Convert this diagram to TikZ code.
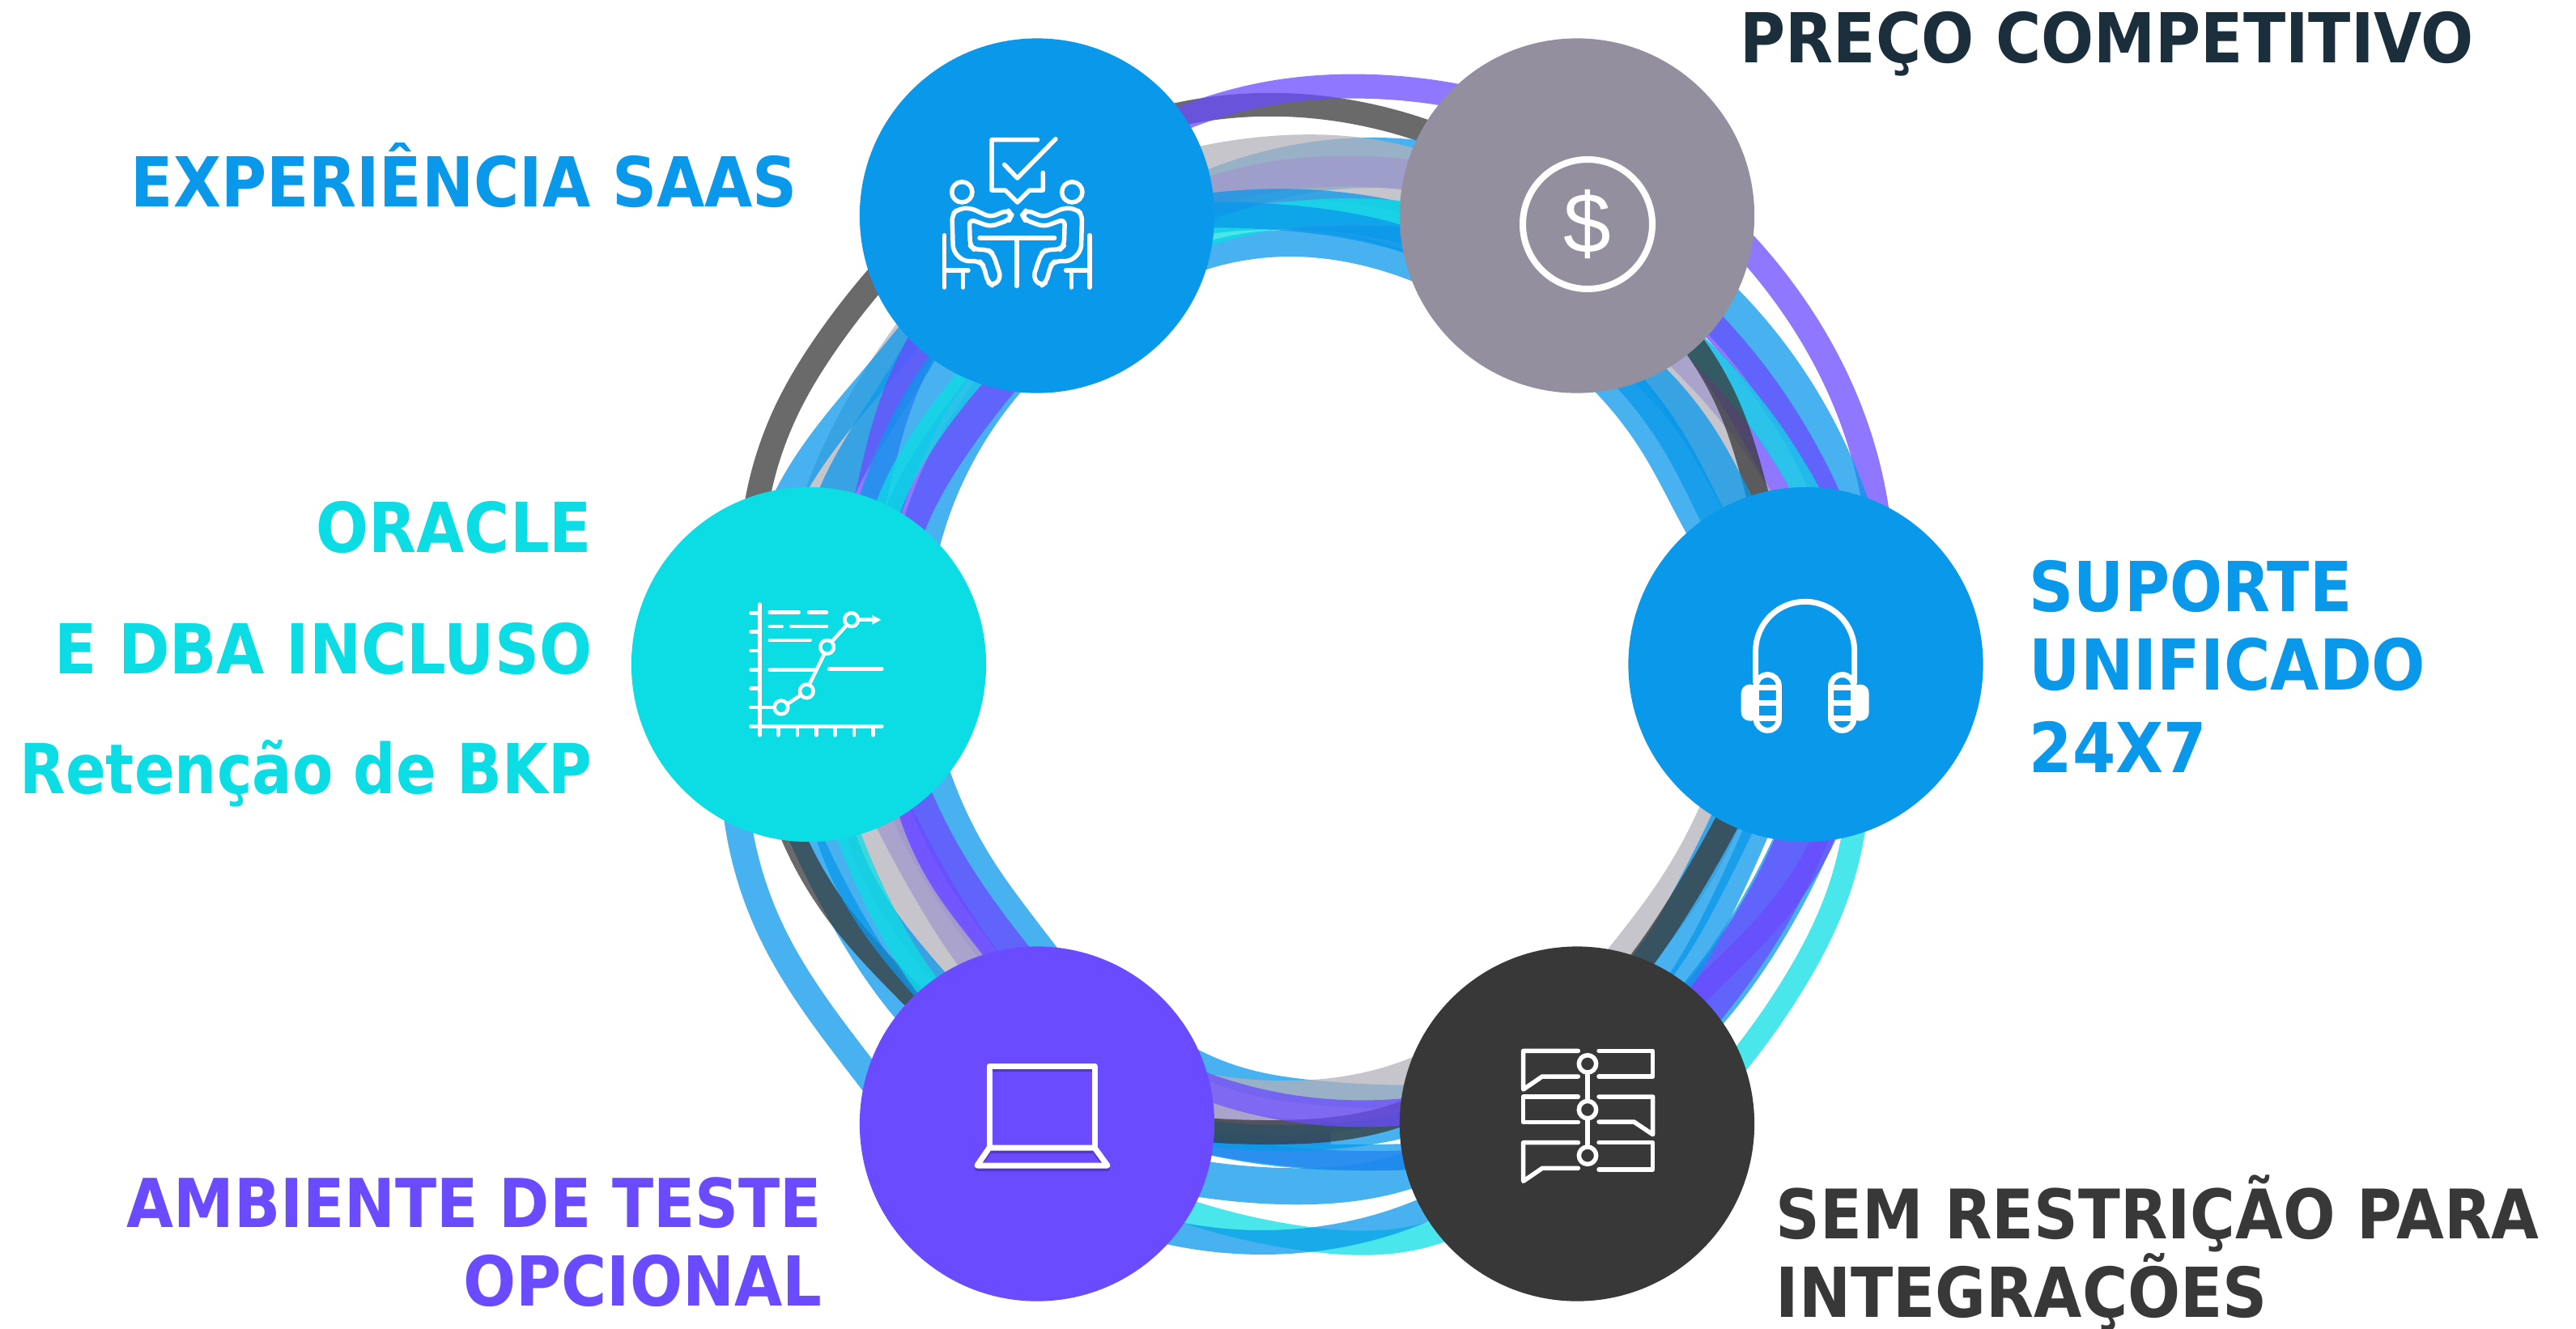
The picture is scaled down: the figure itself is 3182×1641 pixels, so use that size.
\documentclass[tikz,border=0pt]{standalone}
\usepackage{fontspec}
\usetikzlibrary{hobby}
\newfontfamily\labelfont[FakeStretch=0.9]{DejaVu Sans}
\newfontfamily\narrowfont[FakeStretch=0.862]{DejaVu Sans}
\newfontfamily\signfont{Liberation Sans}

\definecolor{ringblue}{HTML}{0A98EA}
\definecolor{ringcyan}{HTML}{0CDDE5}
\definecolor{ringviolet}{HTML}{6A4BFF}
\definecolor{ringdark}{HTML}{383838}
\definecolor{ringgray}{HTML}{B3B2BA}
\definecolor{hubgray}{HTML}{948F9F}
\definecolor{inkdark}{HTML}{1B2E3C}
\definecolor{laptopshade}{HTML}{5238C4}

\tikzset{
	hub/.style={circle, minimum size=4.38cm, inner sep=0pt, draw=none},
	tag/.style={font=\labelfont\bfseries\fontsize{24.2}{28}\selectfont, inner sep=0pt},
	icon/.style={draw=white, line width=0.055cm, line cap=round, line join=round},
}

% one swoosh of the ring, width in pixels
\newcommand{\band}[3]{\draw[use Hobby shortcut, draw=#1, draw opacity=0.75, line width=#2*0.01cm] #3;}

\begin{document}
\begin{tikzpicture}[x=0.01cm, y=-0.01cm]
\useasboundingbox (0,0) rectangle (3182,1641);

% top
\begin{scope}[shift={(1470,70)}, scale=1/3]
	\band{ringdark}{29}{(-200,255) .. (270,178) .. (600,205) .. (1050,350)}
	\band{ringviolet}{30}{(-200,310) .. (300,135) .. (640,110) .. (1100,170)}
	\band{ringblue}{33}{(-120,810) .. (340,692) .. (790,767) .. (1000,860)}
	\fill[ringblue, opacity=0.75] (350,640) .. controls (500,625) and (650,620) .. (1000,640) -- (1000,800) .. controls (800,720) and (600,650) .. cycle;
	\band{ringblue}{62}{(-100,600) .. (330,433) .. (830,401) .. (1000,430)}
	\band{ringviolet}{38}{(-100,570) .. (330,442) .. (780,435) .. (1000,470)}
	\band{ringgray}{82}{(-150,510) .. (320,416) .. (830,468) .. (1000,540)}
	\band{ringblue}{50}{(-100,610) .. (340,565) .. (780,615) .. (1000,680)}
	\band{ringcyan}{32}{(-100,720) .. (340,590) .. (780,582) .. (1000,610)}
	\band{ringblue}{32}{(-100,590) .. (340,596) .. (780,673) .. (1000,760)}
\end{scope}

% upper right
\begin{scope}[shift={(1950,280)}, scale=1/3]
	\band{ringviolet}{32}{(470,-75) .. (790,285) .. (1030,755) .. (1115,1160)}
	\band{ringblue}{65}{(380,170) .. (700,510) .. (957,978) .. (1010,1130)}
	\band{ringviolet}{25}{(280,410) .. (550,690) .. (740,970) .. (790,1090)}
	\band{ringviolet}{33}{(380,250) .. (650,545) .. (905,965) .. (960,1090)}
	\band{ringviolet}{32}{(310,340) .. (590,610) .. (835,965) .. (900,1090)}
	\band{ringcyan}{32}{(310,340) .. (590,610) .. (835,965) .. (900,1090)}
	\band{ringgray}{63}{(210,380) .. (470,745) .. (615,1000) .. (670,1100)}
	\band{ringdark}{28}{(320,310) .. (565,685) .. (660,985) .. (690,1100)}
	\band{ringblue}{55}{(20,460) .. (310,800) .. (465,1085) .. (520,1180)}
	\band{ringblue}{40}{(160,460) .. (465,800) .. (570,990) .. (640,1120)}
	\band{ringblue}{32}{(60,450) .. (360,810) .. (492,1065) .. (550,1180)}
\end{scope}

% upper left
\begin{scope}[shift={(880,280)}, scale=1/3]
	\band{ringdark}{30}{(700,90) .. (430,420) .. (275,680) .. (150,1130)}
	\band{ringgray}{60}{(850,290) .. (680,520) .. (440,975) .. (400,1090)}
	\band{ringblue}{35}{(830,280) .. (620,540) .. (297,970) .. (240,1090)}
	\band{ringblue}{43}{(850,320) .. (680,610) .. (465,975) .. (420,1090)}
	\band{ringblue}{52}{(1170,470) .. (900,830) .. (780,1120) .. (750,1240)}
	\band{ringviolet}{56}{(1150,450) .. (900,760) .. (720,1070) .. (680,1180)}
	\band{ringviolet}{40}{(860,310) .. (665,700) .. (590,990) .. (560,1110)}
	\band{ringblue}{56}{(990,380) .. (750,725) .. (640,980) .. (600,1110)}
	\band{ringcyan}{32}{(1070,440) .. (785,785) .. (655,1030) .. (620,1150)}
\end{scope}

% lower left
\begin{scope}[shift={(880,980)}, scale=1/3]
	\band{ringblue}{33}{(85,30) .. (215,505) .. (575,1045) .. (640,1130)}
	\band{ringblue}{40}{(300,60) .. (490,450) .. (715,785) .. (800,880)}
	\band{ringdark}{30}{(260,60) .. (440,410) .. (745,755) .. (820,830)}
	\band{ringblue}{62}{(780,-90) .. (950,280) .. (1120,520) .. (1220,650)}
	\band{ringviolet}{58}{(700,-50) .. (880,310) .. (1060,565) .. (1160,690)}
	\band{ringviolet}{50}{(620,-20) .. (820,360) .. (975,600) .. (1070,720)}
	\band{ringgray}{70}{(560,0) .. (730,410) .. (900,640) .. (1000,770)}
	\band{ringblue}{48}{(430,60) .. (540,350) .. (790,690) .. (880,790)}
	\band{ringcyan}{30}{(470,60) .. (610,400) .. (780,690) .. (860,790)}
\end{scope}

% lower right
\begin{scope}[shift={(1950,980)}, scale=1/3]
	\band{ringcyan}{28}{(1030,60) .. (950,400) .. (800,700) .. (530,1070)}
	\band{ringblue}{70}{(880,60) .. (680,470) .. (470,770) .. (390,860)}
	\band{ringviolet}{62}{(870,60) .. (675,470) .. (465,770) .. (390,860)}
	\band{ringviolet}{28}{(950,70) .. (735,440) .. (445,740) .. (360,830)}
	\band{ringgray}{55}{(570,-30) .. (360,380) .. (180,620) .. (100,720)}
	\band{ringblue}{55}{(620,0) .. (440,370) .. (290,620) .. (200,730)}
	\band{ringdark}{30}{(610,-10) .. (400,370) .. (248,600) .. (170,700)}
	\band{ringblue}{32}{(700,40) .. (530,420) .. (380,690) .. (300,800)}
\end{scope}

% bottom
\begin{scope}[shift={(1470,1280)}, scale=1/3]
	\band{ringblue}{30}{(-120,10) .. (200,165) .. (470,210) .. (950,225)}
	\band{ringviolet}{30}{(-60,240) .. (350,350) .. (520,355)}
	\band{ringgray}{67}{(-120,200) .. (350,266) .. (800,195) .. (950,130)}
	\band{ringblue}{45}{(-120,500) .. (300,555) .. (820,495) .. (950,440)}
	\band{ringviolet}{24}{(-120,360) .. (400,450) .. (800,460) .. (950,450)}
	\band{ringblue}{32}{(-120,340) .. (400,442) .. (800,447) .. (950,440)}
	\band{ringblue}{32}{(-120,330) .. (470,375) .. (780,332) .. (950,280)}
	\band{ringdark}{30}{(-120,330) .. (300,357) .. (780,290) .. (950,210)}
	\band{ringviolet}{33}{(-100,120) .. (330,260) .. (780,282) .. (950,260)}
	\band{ringcyan}{30}{(-150,600) .. (420,750) .. (865,740) .. (1000,690)}
	\band{ringblue}{30}{(-150,710) .. (215,764) .. (855,650) .. (1000,580)}
\end{scope}

\node[hub, fill=ringblue]   (saas)    at (1281,266.5) {};
\node[hub, fill=hubgray]    (preco)   at (1948,266.5) {};
\node[hub, fill=ringcyan]   (oracle)  at (999,821) {};
\node[hub, fill=ringblue]   (suporte) at (2230.5,821) {};
\node[hub, fill=ringviolet] (teste)   at (1281,1388.5) {};
\node[hub, fill=ringdark]   (integra) at (1948,1388.5) {};

% meeting icon
\begin{scope}[shift={(1120,140)}, scale=1/3]
	\draw[icon] (485,98) -- (315,98) -- (315,285) -- (365,285) -- (410,330) -- (455,285) -- (505,285) -- (505,220);
	\draw[icon] (362,190) -- (410,240) -- (552,95);
	\draw[icon] (270,462) -- (548,462);
	\draw[icon] (408,462) -- (408,640);
	\foreach \side in {1,-1}{
		\begin{scope}[shift={(409,0)}, xscale=\side]
			\draw[icon] (-204,292) circle (38);
			\draw[icon] (-269,452) -- (-269,645);
			\draw[icon] (-269,582) -- (-181,582);
			\draw[icon] (-201,582) -- (-201,645);
			\draw[icon, rounded corners=2pt] (-99,385) -- (-174,350) -- (-219,355) -- (-241,375) -- (-237,510) -- (-199,548) -- (-139,548) -- (-124,565) -- (-109,625) -- (-89,640) -- (-59,610) -- (-89,520) -- (-109,505) -- (-159,505) -- (-174,490) -- (-177,392) -- (-99,420) -- (-29,395) -- (-20,378) -- (-34,358) -- cycle;
		\end{scope}
	}
\end{scope}

% dollar icon
\draw[icon, line width=0.08cm] (1961,277) circle (80);
\node[text=white, inner sep=0pt, font=\signfont\fontsize{30}{32}\selectfont] (dollar) at (1961,277) {\$};

% chart icon
\begin{scope}[shift={(760,580)}, scale=1/3]
	\tikzset{every path/.append style={icon, line width=0.045cm}}
	\draw (535,500) -- (535,985);
	\draw (503,952) -- (988,952);
	\foreach \y in {532,602,672,742,812,882} \draw (503,\y) -- (535,\y);
	\foreach \x in {605,675,745,815,885,955} \draw (\x,952) -- (\x,985);
	\draw (572,530) -- (680,530);
	\draw (717,530) -- (783,530);
	\draw (572,582) -- (617,582);
	\draw (652,582) -- (783,582);
	\draw (572,633) -- (722,633);
	\draw (572,742) -- (740,742);
	\draw (793,740) -- (988,740);
	\draw (503,882) -- (585,882);
	\draw (640,868) -- (685,838);
	\draw (720,795) -- (775,683);
	\draw (805,635) -- (855,580);
	\draw (905,557) -- (960,557);
	\foreach \x/\y in {615/882,709/822,785/658,875/557} \draw (\x,\y) circle (25);
	\fill[white, draw=none] (952,540) -- (985,557) -- (952,575) -- cycle;
\end{scope}

% headset icon
\begin{scope}[shift={(2000,580)}, scale=1/3]
	\draw[icon, line width=0.07cm] (506,790) -- (506,673) arc[start angle=180, end angle=360, radius=183] -- (872,790);
	\fill[white, rounded corners=3pt] (452,797) rectangle (520,932);
	\fill[white, rounded corners=3pt] (858,797) rectangle (926,932);
	\foreach \x in {508,785}{
		\filldraw[draw=white, fill=ringblue, line width=0.07cm, rounded corners=3.9pt] (\x,761) rectangle (\x+84,967);
		\foreach \y in {808,864,922} \draw[draw=white, line width=0.07cm] (\x,\y) -- (\x+84,\y);
	}
\end{scope}

% laptop icon
\foreach \col/\dy/\wd in {laptopshade/4/0.06cm, white/0/0.07cm}{
	\draw[icon, draw=\col, line width=\wd] (1222,1418+\dy) -- (1222,1317+\dy) -- (1352,1317+\dy) -- (1352,1418+\dy);
	\draw[icon, draw=\col, line width=\wd] (1222,1418+\dy) -- (1207,1440+\dy) -- (1368,1440+\dy) -- (1352,1418+\dy) -- cycle;
}

% threads icon
\begin{scope}[shift={(1830,1250)}, scale=1/3]
	\draw[icon] (358,145) -- (155,145) -- (155,288) -- (225,240) -- (358,240);
	\draw[icon] (435,145) -- (635,145) -- (635,240) -- (435,240);
	\draw[icon] (358,315) -- (155,315) -- (155,410) -- (358,410);
	\draw[icon] (435,315) -- (635,315) -- (635,455) -- (565,408) -- (435,408);
	\draw[icon] (358,485) -- (155,485) -- (155,628) -- (225,580) -- (358,580);
	\draw[icon] (435,485) -- (635,485) -- (635,585) -- (435,585);
	\foreach \y in {193,363,533} \draw[icon] (393,\y) circle (32);
	\draw[icon] (393,228) -- (393,330);
	\draw[icon] (393,398) -- (393,500);
\end{scope}

\node[tag, text=ringblue, anchor=base west] (txtsaas) at (161,255) {EXPERIÊNCIA SAAS};
\node[tag, text=inkdark, anchor=base west] (txtpreco) at (2149,77) {PREÇO COMPETITIVO};
\node[tag, text=ringcyan, anchor=base east] (txtoracle) at (732,682) {ORACLE};
\node[tag, text=ringcyan, anchor=base east] (txtdba) at (732,832) {E DBA INCLUSO};
\node[tag, text=ringcyan, anchor=base east, font=\narrowfont\bfseries\fontsize{24.2}{28}\selectfont] (txtbkp) at (732,980) {Retenção de BKP};
\node[tag, text=ringblue, anchor=base west] (txtsup) at (2506,755) {SUPORTE};
\node[tag, text=ringblue, anchor=base west, font=\labelfont\bfseries\fontsize{24.7}{28}\selectfont] (txtuni) at (2506,852) {UNIFICADO};
\node[tag, text=ringblue, anchor=base west] (txt24) at (2506,954) {24X7};
\node[tag, text=ringviolet, anchor=base east, font=\labelfont\bfseries\fontsize{23.7}{28}\selectfont] (txtamb) at (1016,1516) {AMBIENTE DE TESTE};
\node[tag, text=ringviolet, anchor=base east] (txtopc) at (1016,1613) {OPCIONAL};
\node[tag, text=ringdark, anchor=base west, font=\labelfont\bfseries\fontsize{24}{28}\selectfont] (txtsem) at (2193,1530) {SEM RESTRIÇÃO PARA};
\node[tag, text=ringdark, anchor=base west] (txtint) at (2193,1627) {INTEGRAÇÕES};

\end{tikzpicture}
\end{document}
